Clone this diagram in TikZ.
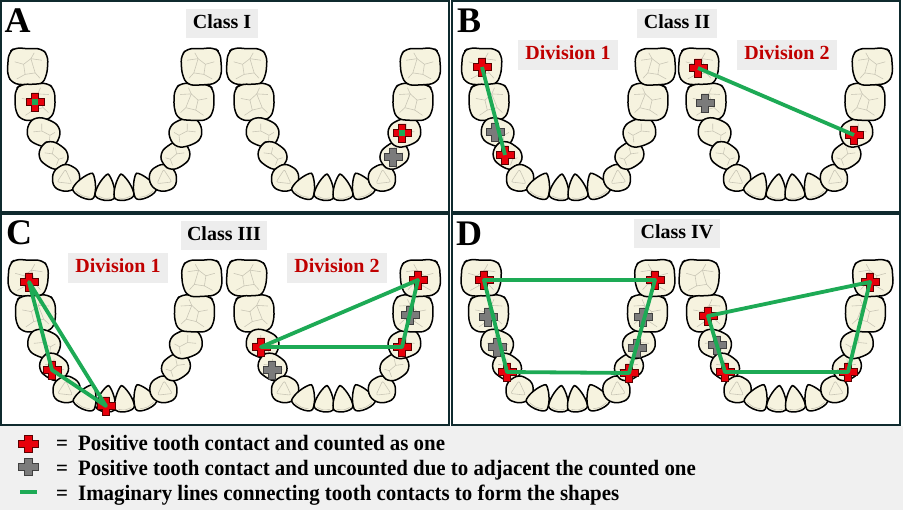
\documentclass[tikz,border=0pt]{standalone}
\usepackage{fontspec}
\setmainfont{Liberation Serif}
\newfontfamily\legfont[FakeStretch=0.95]{Liberation Serif}
\definecolor{frameC}{HTML}{0F2A2E}
\definecolor{toothF}{HTML}{F6F3DF}
\definecolor{fissC}{HTML}{C9C6B6}
\definecolor{grn}{HTML}{1DAA55}
\definecolor{divred}{HTML}{C00000}
\definecolor{boxg}{HTML}{EDEDED}
\definecolor{legbg}{HTML}{F0F0F0}
\definecolor{plusred}{HTML}{E8000B}
\definecolor{plusredD}{HTML}{5A0000}
\definecolor{plusgrey}{HTML}{7B7B7B}
\tikzset{
  panel/.style={draw=frameC, fill=white, line width=1.6pt},
  tooth/.style={fill=toothF, draw=black, line width=1.5pt, line join=round},
  fiss/.style={draw=fissC, line width=0.6pt},
  gline/.style={draw=grn, line width=3.8pt, line join=round},
  panlet/.style={font=\fontsize{36}{36}\selectfont\bfseries, inner sep=0pt},
  titlebox/.style={fill=boxg, font=\fontsize{20}{20}\selectfont\bfseries, inner xsep=6.5pt, minimum height=29pt, text height=13.5pt, text depth=3.5pt},
  divbox/.style={fill=boxg, text=divred, font=\fontsize{20}{20}\selectfont\bfseries, inner xsep=7.5pt, minimum height=30pt, text height=13.5pt, text depth=3.5pt},
  legtext/.style={font=\legfont\fontsize{22}{22}\selectfont\bfseries, inner sep=0pt},
  molar/.pic={
    \path[tooth, rounded corners=6pt] (-19.5,-13) -- (-13,-18.5) -- (0,-17.5) -- (13,-19) -- (20,-12) -- (20,7) -- (15,18) -- (0,18.5) -- (-14,18) -- (-20,9) -- cycle;
    \draw[fiss] (-13,-4) -- (-4,-2) -- (3,-8) -- (6,-14);
    \draw[fiss] (-4,-2) -- (-2,8) -- (-10,13);
    \draw[fiss] (-2,8) -- (8,6) -- (13,11);
    \draw[fiss] (3,-8) -- (8,6);
    \draw[fiss] (3,-8) -- (14,-7);
  },
  premolar/.pic={
    \path[tooth, rounded corners=6pt] (-17.5,-4.5) -- (-11,-13.5) -- (3,-14) -- (14.5,-10) -- (17.5,2) -- (12,13) -- (-3,14) -- (-14.5,10) -- cycle;
    \draw[fiss] (-10,2) -- (-2,-1) -- (7,1) -- (11,-3);
    \draw[fiss] (-2,-1) -- (-4,-8);
    \draw[fiss] (7,1) -- (8,8);
  },
  canine/.pic={
    \path[tooth, rounded corners=6pt] (-3,-14.5) -- (12.5,-9) -- (14.5,5.5) -- (4.5,14.5) -- (-11,12.5) -- (-14.5,-3.5) -- cycle;
    \draw[fiss, rounded corners=2pt] (-2,-8) -- (7,5) -- (-8,6) -- cycle;
  },
  incisor/.pic={
    \path[tooth] (-1.5,-13) .. controls (0,-14.5) .. (1.5,-13) .. controls (5.5,-8.5) and (10,1) .. (10,7.5) .. controls (10,14) and (-10,14) .. (-10,7.5) .. controls (-10,1) and (-5.5,-8.5) .. (-1.5,-13) -- cycle;
    \draw[fiss] (-6.5,9) .. controls (0,11) .. (6.5,9);
  },
  redplus/.pic={
    \path[fill=plusred, draw=plusredD, line width=0.7pt] (-3.5,-9) -- (3.5,-9) -- (3.5,-3.5) -- (9,-3.5) -- (9,3.5) -- (3.5,3.5) -- (3.5,9) -- (-3.5,9) -- (-3.5,3.5) -- (-9,3.5) -- (-9,-3.5) -- (-3.5,-3.5) -- cycle;
  },
  redplusg/.pic={
    \path[fill=plusred, draw=plusredD, line width=0.7pt] (-3.5,-9) -- (3.5,-9) -- (3.5,-3.5) -- (9,-3.5) -- (9,3.5) -- (3.5,3.5) -- (3.5,9) -- (-3.5,9) -- (-3.5,3.5) -- (-9,3.5) -- (-9,-3.5) -- (-3.5,-3.5) -- cycle;
    \fill[grn] (-3,-3) rectangle (3,3);
  },
  greyplus/.pic={
    \path[fill=plusgrey, draw=black!75, line width=0.7pt] (-3.5,-9) -- (3.5,-9) -- (3.5,-3.5) -- (9,-3.5) -- (9,3.5) -- (3.5,3.5) -- (3.5,9) -- (-3.5,9) -- (-3.5,3.5) -- (-9,3.5) -- (-9,-3.5) -- (-3.5,-3.5) -- cycle;
  },
}
\newcommand{\DrawArch}[2]{%
\begin{scope}[shift={(#1,#2)}]
\pic[rotate=-3] at (-87,0) {molar};
\pic[rotate=2] at (-79.5,35.5) {molar};
\pic[rotate=-15] at (-71,66) {premolar};
\pic[rotate=-28,scale=0.9] at (-61,89) {premolar};
\pic[rotate=-10] at (-48.5,111) {canine};
\pic[rotate=-25,xscale=1.15] at (-28,119.5) {incisor};
\pic[rotate=-8] at (-8.5,121.5) {incisor};
\pic[rotate=8] at (8.5,121.5) {incisor};
\pic[rotate=25,xscale=1.15] at (28,119.5) {incisor};
\pic[rotate=10,xscale=-1] at (48.5,111) {canine};
\pic[rotate=28,scale=0.9,xscale=-1] at (61,89) {premolar};
\pic[rotate=15,xscale=-1] at (71,66) {premolar};
\pic[rotate=-2,xscale=-1] at (79.5,35.5) {molar};
\pic[rotate=3,xscale=-1] at (87,0) {molar};
\end{scope}}
\begin{document}
\begin{tikzpicture}[x=1pt,y=-1pt]
\useasboundingbox (0,0) rectangle (903,510);
\fill[white] (0,0) rectangle (903,510);
\fill[legbg] (0,426.5) rectangle (903,510);
% panels
\path[panel] (1,1) rectangle (449,212);
\path[panel] (452,1) rectangle (900,212);
\path[panel] (1,214) rectangle (449,425);
\path[panel] (452,214) rectangle (900,425);
% panel letters
\node[panlet, anchor=base west] (labA) at (4.5,33) {A};
\node[panlet, anchor=base west] (labB) at (457,33) {B};
\node[panlet, anchor=base west] (labC) at (6,245) {C};
\node[panlet, anchor=base west] (labD) at (456,246) {D};
% titles
\node[titlebox] (tA) at (222,24) {Class I};
\node[titlebox] (tB) at (677,24) {Class II};
\node[titlebox] (tC) at (224,236) {Class III};
\node[titlebox] (tD) at (677,234) {Class IV};
\node[divbox] (bD1) at (568,55) {Division 1};
\node[divbox] (bD2) at (787,55) {Division 2};
\node[divbox] (cD1) at (118,268) {Division 1};
\node[divbox] (cD2) at (337,268) {Division 2};
% arches
\DrawArch{114.5}{66.5}
\DrawArch{333.5}{66.5}
\DrawArch{568.5}{66.5}
\DrawArch{785.5}{66.5}
\DrawArch{115}{278}
\DrawArch{333.5}{278}
\DrawArch{568}{278}
\DrawArch{786}{278}
% marker coordinates
\coordinate (aL2) at (35,102);
\coordinate (aR12) at (402,133);
\coordinate (aR11) at (393,157);
\coordinate (bL1) at (482,67);
\coordinate (bL3) at (495,132);
\coordinate (bL4) at (505,155);
\coordinate (bR1) at (698,68);
\coordinate (bR2) at (705,103);
\coordinate (bR12) at (854,135);
\coordinate (cL1) at (29,282);
\coordinate (cL4) at (52,370);
\coordinate (cL7) at (106,406);
\coordinate (cR3) at (261,347);
\coordinate (cR4) at (272,370);
\coordinate (cR14) at (418,280);
\coordinate (cR13) at (410,315);
\coordinate (cR12) at (402,347);
\coordinate (dL1) at (484,280);
\coordinate (dL2) at (488,317);
\coordinate (dL3) at (497,347);
\coordinate (dL4) at (507,372);
\coordinate (dL14) at (655,280);
\coordinate (dL13) at (643,317);
\coordinate (dL12) at (637,348);
\coordinate (dL11) at (629,373);
\coordinate (dR2) at (708,316);
\coordinate (dR3) at (717,345);
\coordinate (dR4) at (725,372);
\coordinate (dR11) at (848,372);
\coordinate (dR14) at (870,282);
% markers
\pic at (aL2) {redplusg};
\pic at (aR12) {redplusg};
\pic at (aR11) {greyplus};
\pic at (bL1) {redplus};
\pic at (bL3) {greyplus};
\pic at (bL4) {redplus};
\pic at (bR1) {redplus};
\pic at (bR2) {greyplus};
\pic at (bR12) {redplus};
\pic at (cL1) {redplus};
\pic at (cL4) {redplus};
\pic at (cL7) {redplus};
\pic at (cR3) {redplus};
\pic at (cR4) {greyplus};
\pic at (cR14) {redplus};
\pic at (cR13) {greyplus};
\pic at (cR12) {redplus};
\pic at (dL1) {redplus};
\pic at (dL2) {greyplus};
\pic at (dL3) {greyplus};
\pic at (dL4) {redplus};
\pic at (dL14) {redplus};
\pic at (dL13) {greyplus};
\pic at (dL12) {greyplus};
\pic at (dL11) {redplus};
\pic at (dR2) {redplus};
\pic at (dR3) {greyplus};
\pic at (dR4) {redplus};
\pic at (dR11) {redplus};
\pic at (dR14) {redplus};
% connecting lines
\draw[gline] (bL1) -- (bL4);
\draw[gline] (bR1) -- (bR12);
\draw[gline] (cL1) -- (cL4) -- (cL7) -- cycle;
\draw[gline] (cR3) -- (cR14) -- (cR12) -- cycle;
\draw[gline] (dL1) -- (dL14) -- (dL11) -- (dL4) -- cycle;
\draw[gline] (dR2) -- (dR14) -- (dR11) -- (dR4) -- cycle;
% legend
\coordinate (lr) at (28,444);
\coordinate (lg) at (28,467);
\coordinate (g1) at (20,492);
\coordinate (g2) at (37,492);
\pic[xscale=1.1,yscale=0.95] at (lr) {redplus};
\pic[xscale=1.1,yscale=0.95] at (lg) {greyplus};
\draw[gline] (g1) -- (g2);
\node[legtext, anchor=base] (e1) at (62,451) {=};
\node[legtext, anchor=base] (e2) at (62,476) {=};
\node[legtext, anchor=base] (e3) at (62,501) {=};
\node[legtext, anchor=base west] (l1) at (78,451) {Positive tooth contact and counted as one};
\node[legtext, anchor=base west] (l2) at (78,476) {Positive tooth contact and uncounted due to adjacent the counted one};
\node[legtext, anchor=base west] (l3) at (78,501) {Imaginary lines connecting tooth contacts to form the shapes};
\end{tikzpicture}
\end{document}
